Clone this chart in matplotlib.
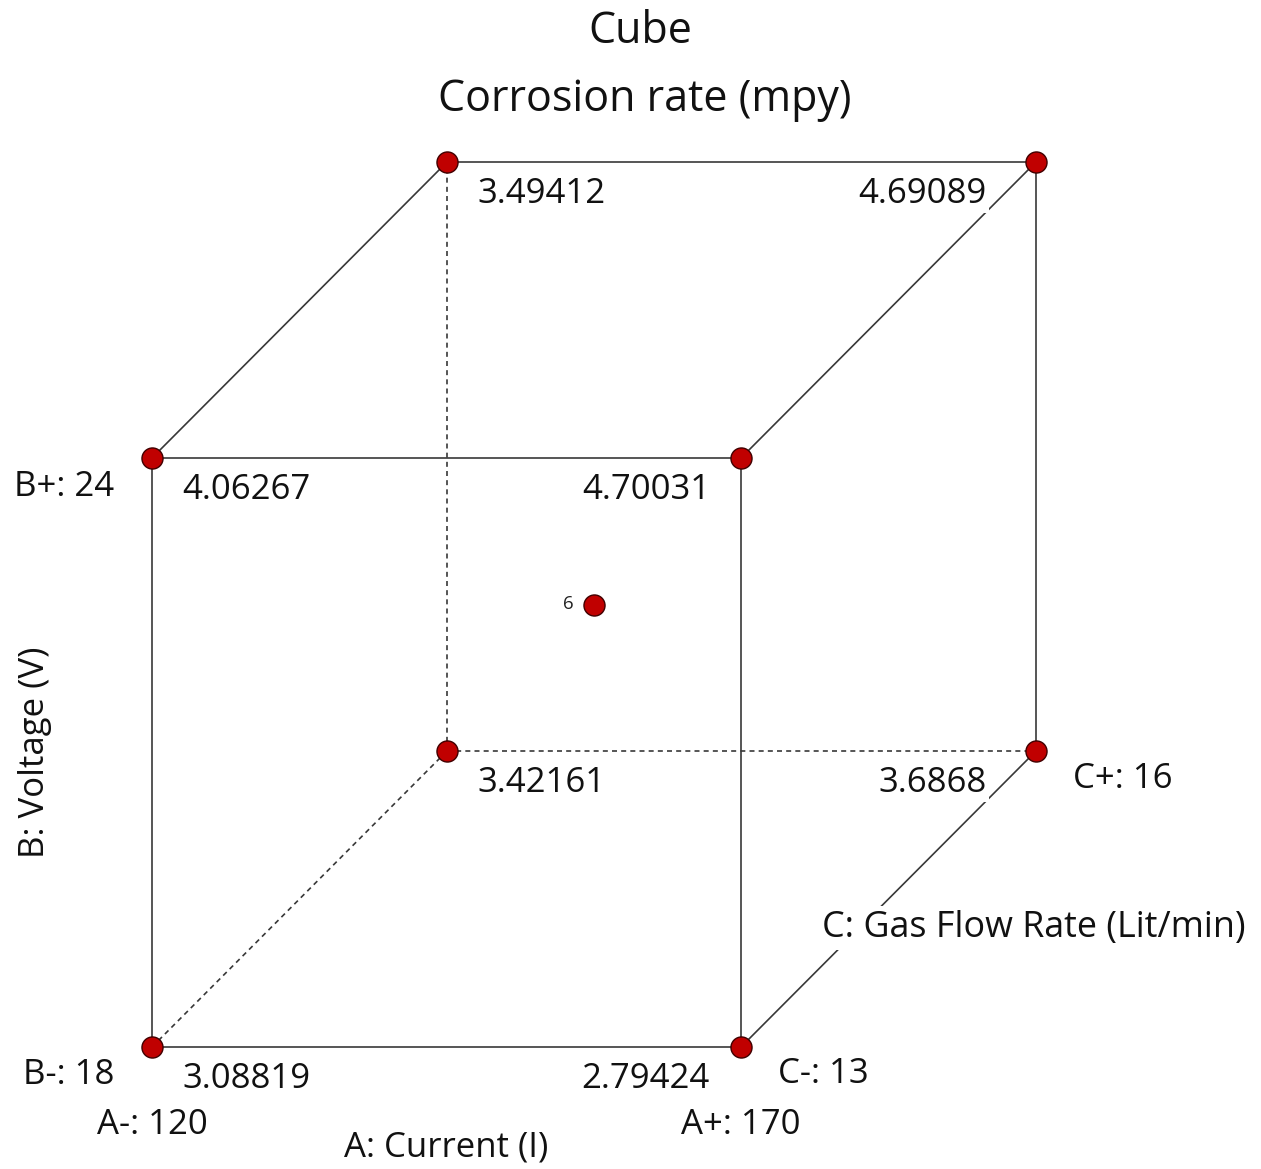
import numpy as np
import matplotlib
matplotlib.use("Agg")
import matplotlib.pyplot as plt

plt.rcParams["font.family"] = ["Open Sans", "DejaVu Sans"]

# ---- data -------------------------------------------------------------------
A_LEVELS = ["120", "170"]          # A: Current (I)
B_LEVELS = ["18", "24"]            # B: Voltage (V)
C_LEVELS = ["13", "16"]            # C: Gas Flow Rate (Lit/min)
CORNER_A = [-1, 1, -1, 1, -1, 1, -1, 1]
CORNER_B = [-1, -1, 1, 1, -1, -1, 1, 1]
CORNER_C = [-1, -1, -1, -1, 1, 1, 1, 1]
CORNER_VAL = ["3.08819", "2.79424", "4.06267", "4.70031",
              "3.42161", "3.6868", "3.49412", "4.69089"]
CENTER_RUNS = 6

LINE = "#383838"
DOT = "#c00000"
FS = 25

def proj(a, b, c):
    # oblique projection of coded (a, b, c) onto the page
    return a + 0.5008 * (c + 1), b + 0.5025 * (c + 1)

fig = plt.figure(figsize=(12.61, 11.69), dpi=100)
ax = fig.add_axes([0, 0, 1, 1])
ax.set_xlim(-1.5161, 2.7657)
ax.set_ylim(-1.4143, 2.5552)
ax.axis("off")

# ---- edges ------------------------------------------------------------------
hidden = {(0, 4), (4, 5), (4, 6)}   # edges touching the back-bottom-left corner
for i in range(8):
    for j in range(i + 1, 8):
        diff = (abs(CORNER_A[i] - CORNER_A[j]) + abs(CORNER_B[i] - CORNER_B[j])
                + abs(CORNER_C[i] - CORNER_C[j]))
        if diff != 2:
            continue
        x0, y0 = proj(CORNER_A[i], CORNER_B[i], CORNER_C[i])
        x1, y1 = proj(CORNER_A[j], CORNER_B[j], CORNER_C[j])
        if (i, j) in hidden:
            ax.plot([x0, x1], [y0, y1], color=LINE, lw=1.2, ls=(0, (3, 2.5)), zorder=1)
        else:
            ax.plot([x0, x1], [y0, y1], color=LINE, lw=1.2, zorder=2)

# ---- corner points and values ----------------------------------------------
pts = [proj(a, b, c) for a, b, c in zip(CORNER_A, CORNER_B, CORNER_C)]
px = [p[0] for p in pts]
py = [p[1] for p in pts]
ax.scatter(px, py, s=230, color=DOT, edgecolor="#400000", linewidth=1.0, zorder=5)

for k, val in enumerate(CORNER_VAL):
    a, c = CORNER_A[k], CORNER_C[k]
    if a < 0:
        dx, ha = 30, "left"
    else:
        dx, ha = (-49 if c > 0 else -31), "right"
    ax.annotate(val, (px[k], py[k]), xytext=(dx, -32), textcoords="offset pixels",
                ha=ha, va="center", fontsize=FS, color="#111111", zorder=4,
                bbox=dict(boxstyle="square,pad=0.05", fc="white", ec="none"))

# center point
cx, cy = proj(0, 0, 0)
ax.scatter([cx], [cy], s=230, color=DOT, edgecolor="#400000", linewidth=1.0, zorder=5)
ax.annotate(str(CENTER_RUNS), (cx, cy), xytext=(-20, 1), textcoords="offset pixels",
            ha="right", va="center", fontsize=13.5, color="#222222")

# ---- factor labels -----------------------------------------------------------
def lab(a, b, c, text, dx, dy, ha="center", **kw):
    x, y = proj(a, b, c)
    kw.setdefault("fontsize", FS)
    ax.annotate(text, (x, y), xytext=(dx, dy), textcoords="offset pixels",
                ha=ha, va="center", color="#111111", **kw)

lab(-1, 1, -1, f"B+: {B_LEVELS[1]}", -38, -29, ha="right")
lab(-1, -1, -1, f"B-: {B_LEVELS[0]}", -38, -28, ha="right")
lab(-1, -1, -1, f"A-: {A_LEVELS[0]}", 0, -78)
lab(1, -1, -1, f"A+: {A_LEVELS[1]}", 0, -78)
lab(0, -1, -1, "A: Current (I)", 0, -101)
lab(1, -1, -1, f"C-: {C_LEVELS[0]}", 37, -27, ha="left")
lab(1, -1, 1, f"C+: {C_LEVELS[1]}", 37, -28, ha="left")
lab(1, -1, 0, "C: Gas Flow Rate (Lit/min)", -66, -29, ha="left", fontsize=25.8,
    zorder=4, bbox=dict(boxstyle="square,pad=0.1", fc="white", ec="none"))
lab(-1, 0, -1, "B: Voltage (V)", -117, 0, rotation=90)

# ---- title -------------------------------------------------------------------
fig.text(0.5075, 1 - 32 / 1169, "Cube", ha="center", va="center", fontsize=31, color="#111111")
fig.text(0.5115, 1 - 100 / 1169, "Corrosion rate (mpy)", ha="center", va="center",
         fontsize=31, color="#111111")

fig.savefig("out.png", dpi=100, facecolor="white")
